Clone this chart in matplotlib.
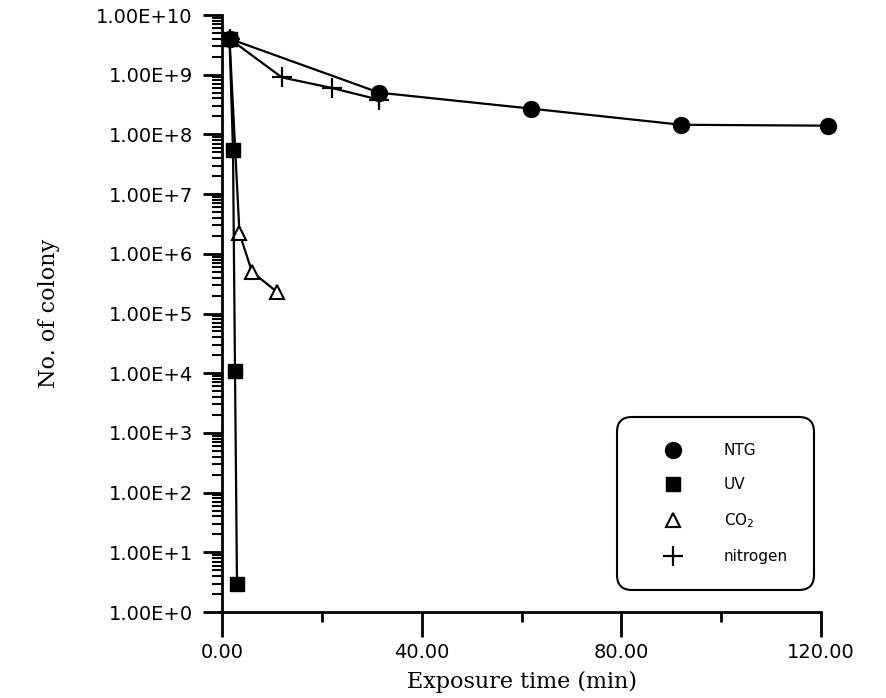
import matplotlib
matplotlib.use('Agg')
import matplotlib.pyplot as plt
from matplotlib.ticker import LogLocator, NullFormatter

# data (time in min, colony count)
ntg_t = [1.5, 31.5, 62, 92, 121.5]
ntg_y = [4e9, 5e8, 2.7e8, 1.45e8, 1.4e8]

uv_t = [1.5, 2.2, 2.6, 3.0]
uv_y = [4e9, 5.5e7, 1.1e4, 3]

co2_t = [1.5, 3.5, 6, 11]
co2_y = [4e9, 2.2e6, 5e5, 2.3e5]

n2_t = [1.5, 12, 22, 31.5]
n2_y = [4e9, 9e8, 6e8, 3.8e8]

xticks = [0, 40, 80, 120]
xtick_labels = ['0.00', '40.00', '80.00', '120.00']
yticks = [1e0, 1e1, 1e2, 1e3, 1e4, 1e5, 1e6, 1e7, 1e8, 1e9, 1e10]
ytick_labels = ['1.00E+0', '1.00E+1', '1.00E+2', '1.00E+3', '1.00E+4', '1.00E+5',
                '1.00E+6', '1.00E+7', '1.00E+8', '1.00E+9', '1.00E+10']

fig = plt.figure(figsize=(8.87, 6.98), dpi=100)
ax = fig.add_axes([0.2503, 0.1232, 0.6753, 0.8553])

ax.plot(ntg_t, ntg_y, color='black', linewidth=1.6, marker='o', markersize=11.5,
        label='NTG', clip_on=False, zorder=3)
ax.plot(n2_t, n2_y, color='black', linewidth=1.6, marker='+', markersize=14,
        markeredgewidth=1.6, label='nitrogen', clip_on=False, zorder=3)
ax.plot(co2_t, co2_y, color='black', linewidth=1.6, marker='^', markersize=10,
        markerfacecolor='white', markeredgewidth=1.5, label='CO$_2$', clip_on=False, zorder=3)
ax.plot(uv_t, uv_y, color='black', linewidth=1.6, marker='s', markersize=10,
        label='UV', clip_on=False, zorder=4)

ax.set_yscale('log')
ax.set_xlim(0, 120)
ax.set_ylim(1, 1e10)

ax.set_xticks(xticks)
ax.set_xticklabels(xtick_labels, fontsize=14)
ax.set_xticks([20, 60, 100], minor=True)
ax.set_yticks(yticks)
ax.set_yticklabels(ytick_labels, fontsize=14)
ax.yaxis.set_minor_locator(LogLocator(base=10, subs=range(2, 10), numticks=20))
ax.yaxis.set_minor_formatter(NullFormatter())

ax.tick_params(axis='x', which='major', direction='out', length=18, width=2, pad=4)
ax.tick_params(axis='x', which='minor', direction='out', length=7, width=2)
ax.tick_params(axis='y', which='major', direction='out', length=14, width=2, pad=7)
ax.tick_params(axis='y', which='minor', direction='out', length=7, width=1.5)

for side in ['top', 'right']:
    ax.spines[side].set_visible(False)
for side in ['left', 'bottom']:
    ax.spines[side].set_linewidth(2)

ax.set_xlabel('Exposure time (min)', fontsize=16, family='DejaVu Serif', labelpad=7)
ax.set_ylabel('No. of colony', fontsize=16, family='DejaVu Serif')
ax.yaxis.set_label_coords(-0.27, 0.5)

h, l = ax.get_legend_handles_labels()
order = [0, 3, 2, 1]
leg = ax.legend([h[i] for i in order], [l[i] for i in order], loc='upper left',
                bbox_to_anchor=(0.659, 0.3266), borderaxespad=0, fontsize=11,
                numpoints=1, frameon=True, fancybox=True, framealpha=1,
                edgecolor='black', borderpad=1.7, labelspacing=1.25,
                handlelength=4.0, handletextpad=1.3)
for line in leg.get_lines():
    line.set_linestyle('None')
leg.get_frame().set_linewidth(1.5)
leg.get_frame().set_boxstyle('round', pad=0, rounding_size=1.0)

plt.savefig('out.png', dpi=100)
